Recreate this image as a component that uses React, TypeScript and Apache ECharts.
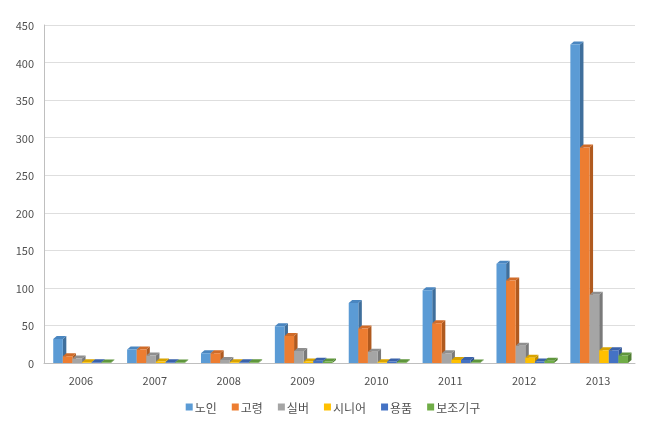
import React, { useEffect, useRef } from "react";
import * as echarts from "echarts";

const years = ["2006", "2007", "2008", "2009", "2010", "2011", "2012", "2013"];
const seriesNames = ["노인", "고령", "실버", "시니어", "용품", "보조기구"];
const noin = [32, 18, 13, 49, 80, 97, 132, 424];
const goryeong = [9, 18, 13, 36, 46, 53, 110, 287];
const silver = [6, 10, 4, 16, 15, 13, 23, 91];
const senior = [1, 2, 1, 2, 1, 4, 7, 17];
const yongpum = [1, 1, 1, 3, 2, 4, 2, 17];
const bojogigu = [0.5, 0.5, 1, 2, 1, 0.5, 3, 10];
const allValues = [noin, goryeong, silver, senior, yongpum, bojogigu];
const yTicks = { min: 0, max: 450, interval: 50 };

const frontColors = ["#5B9BD5", "#ED7D31", "#A5A5A5", "#FFC000", "#4472C4", "#70AD47"];
const sideColors = ["#3F6F9C", "#B05A1F", "#7A7A7A", "#BF8F00", "#2F528F", "#507E32"];
const topColors = ["#4A86C0", "#D06B28", "#8F8F8F", "#D9A400", "#3A62AA", "#5F963C"];

export default function App() {
  const ref = useRef<HTMLDivElement>(null);
  useEffect(() => {
    if (!ref.current) return;
    const chart = echarts.init(ref.current, null, { renderer: "svg" });
    const font = "'Noto Sans CJK KR', 'Malgun Gothic', sans-serif";
    const series = seriesNames.map((name, si) => ({
      type: "custom",
      name,
      itemStyle: { color: frontColors[si] },
      data: allValues[si].map((v, ci) => [ci, v]),
      encode: { x: 0, y: 1 },
      renderItem: (params: any, api: any) => {
        const ci = api.value(0);
        const v = api.value(1);
        const top = api.coord([ci, v]);
        const base = api.coord([ci, 0]);
        const band = api.size([1, 0])[0];
        const w = band * 0.13;
        const d = 3.5;
        const dy = 3;
        const x0 = top[0] - band * 0.375 + si * w;
        const yT = top[1];
        const yB = base[1];
        return {
          type: "group",
          children: [
            {
              type: "polygon",
              shape: { points: [[x0 + w, yT], [x0 + w + d, yT - dy], [x0 + w + d, yB - dy], [x0 + w, yB]] },
              style: { fill: sideColors[si] },
            },
            {
              type: "polygon",
              shape: { points: [[x0, yT], [x0 + d, yT - dy], [x0 + w + d, yT - dy], [x0 + w, yT]] },
              style: { fill: topColors[si] },
            },
            {
              type: "rect",
              shape: { x: x0, y: yT, width: w, height: yB - yT },
              style: { fill: frontColors[si] },
            },
          ],
        };
      },
    }));
    chart.setOption({
      animation: false,
      color: frontColors,
      textStyle: { fontFamily: font },
      grid: { left: 44, right: 31, top: 25, bottom: 65 },
      xAxis: {
        type: "category",
        data: years,
        axisTick: { show: false },
        axisLine: { lineStyle: { color: "#BFBFBF" } },
        axisLabel: { color: "#505050", fontSize: 11, margin: 11, fontFamily: font },
      },
      yAxis: {
        type: "value",
        min: yTicks.min,
        max: yTicks.max,
        interval: yTicks.interval,
        axisLine: { show: true, lineStyle: { color: "#BFBFBF" } },
        axisTick: { show: false },
        axisLabel: { color: "#505050", fontSize: 11, margin: 10, fontFamily: font },
        splitLine: { lineStyle: { color: "#DEDEDE" } },
      },
      legend: {
        data: seriesNames,
        bottom: 10,
        left: "center",
        itemWidth: 7,
        itemHeight: 7,
        itemGap: 15,
        icon: "rect",
        textStyle: { color: "#505050", fontSize: 12, fontFamily: font, padding: [0, 0, 0, -3] },
      },
      series,
    });
    return () => chart.dispose();
  }, []);
  return <div ref={ref} style={{ position: "fixed", left: 0, top: 0, width: 666, height: 428 }} />;
}
